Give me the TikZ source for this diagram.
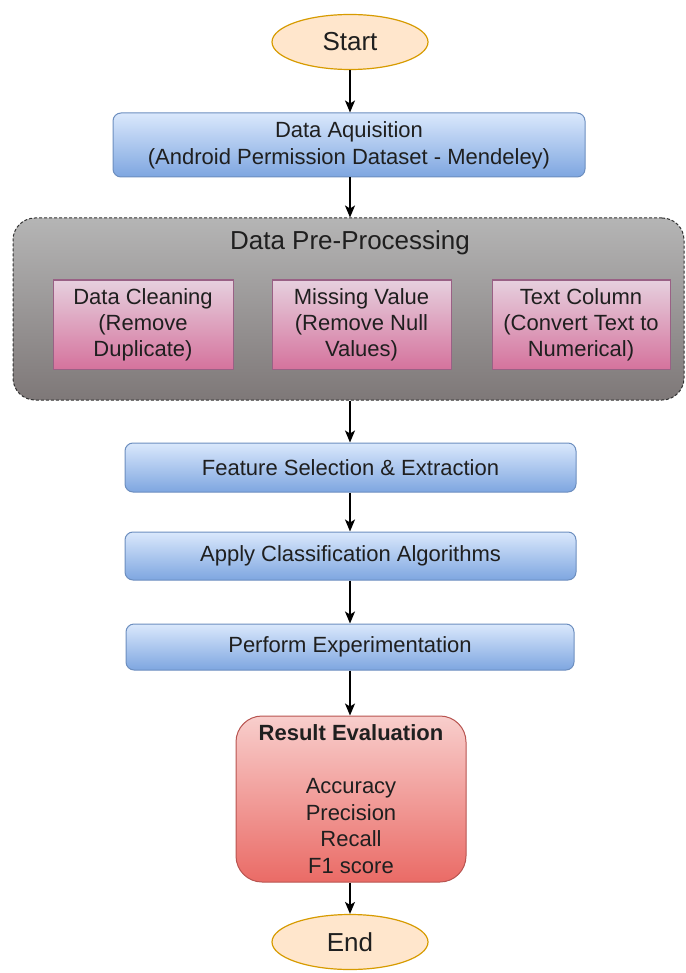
\documentclass[tikz,border=0pt]{standalone}
\usepackage{fontspec}
\setmainfont{Liberation Sans}
\usetikzlibrary{shapes.geometric,arrows.meta}

\definecolor{txt}{HTML}{1F1F1F}
\definecolor{termfill}{HTML}{FFE6CC}
\definecolor{termline}{HTML}{D79B00}
\definecolor{bluetop}{HTML}{DAE8FC}
\definecolor{bluebot}{HTML}{7EA6E0}
\definecolor{blueline}{HTML}{6C8EBF}
\definecolor{graytop}{HTML}{B5B5B5}
\definecolor{graybot}{HTML}{7E7878}
\definecolor{grayline}{HTML}{333333}
\definecolor{pinktop}{HTML}{E6D0DE}
\definecolor{pinkbot}{HTML}{D5739D}
\definecolor{pinkline}{HTML}{996185}
\definecolor{redtop}{HTML}{F8CECC}
\definecolor{redbot}{HTML}{EA6B66}
\definecolor{redline}{HTML}{B85450}

\tikzset{
  txtbase/.style={text=txt, align=center, inner sep=0pt},
  terminal/.style={txtbase, ellipse, draw=termline, fill=termfill, line width=1.2pt,
    minimum width=156pt, minimum height=55pt, font=\fontsize{26}{30}\selectfont},
  bluebox/.style={txtbase, rectangle, rounded corners=8pt, draw=blueline, line width=1pt,
    top color=bluetop, bottom color=bluebot, font=\fontsize{22}{27}\selectfont},
  prebox/.style={txtbase, rectangle, rounded corners=22pt, draw=grayline, line width=1pt,
    dash pattern=on 3pt off 2pt, top color=graytop, bottom color=graybot,
    minimum width=671pt, minimum height=182pt},
  pinkbox/.style={txtbase, rectangle, draw=pinkline, line width=1pt,
    top color=pinktop, bottom color=pinkbot,
    minimum height=89pt, font=\fontsize{22}{26}\selectfont},
  resultbox/.style={txtbase, rectangle, rounded corners=26pt, draw=redline, line width=1pt,
    top color=redtop, bottom color=redbot,
    minimum width=230pt, minimum height=166pt, font=\fontsize{22}{26.7}\selectfont},
  flow/.style={draw=black, line width=1.5pt, -{Stealth[length=12pt,width=10pt,inset=3pt]}}
}

\begin{document}
\begin{tikzpicture}[x=1pt,y=-1pt]
\useasboundingbox (0,0) rectangle (685,973);

% terminals and main steps
\node[terminal] (start) at (350,42) {Start};
\node[bluebox, minimum width=472pt, minimum height=64pt] (acq) at (349,145)
  {Data Aquisition\\(Android Permission Dataset - Mendeley)};

% pre-processing group
\node[prebox] (pre) at (348.5,309) {};
\node[txtbase, font=\fontsize{26}{30}\selectfont] (pretitle) at (350,243) {Data Pre-Processing};
\node[pinkbox, minimum width=180pt] (clean) at (143,324.5)
  {Data Cleaning\\(Remove\\Duplicate)};
\node[pinkbox, minimum width=179pt] (miss) at (361.5,324.5)
  {Missing Value\\(Remove Null\\Values)};
\node[pinkbox, minimum width=178pt] (textcol) at (581,324.5)
  {Text Column\\(Convert Text to\\Numerical)};

\node[bluebox, minimum width=451pt, minimum height=49pt] (feat) at (350.5,467.5)
  {Feature Selection \& Extraction};
\node[bluebox, minimum width=451pt, minimum height=48pt] (apply) at (350.5,556)
  {Apply Classification Algorithms};
\node[bluebox, minimum width=448pt, minimum height=46pt] (perf) at (350,647)
  {Perform Experimentation};

\node[resultbox] (result) at (351,799)
  {\textbf{Result Evaluation}\\[26.7pt]Accuracy\\Precision\\Recall\\F1 score};
\node[terminal] (end) at (350,942) {End};

% connectors
\draw[flow] (start.south) -- (start.south |- acq.north);
\draw[flow] (acq.south -| start.south) -- (start.south |- pre.north);
\draw[flow] (start.south |- pre.south) -- (start.south |- feat.north);
\draw[flow] (start.south |- feat.south) -- (start.south |- apply.north);
\draw[flow] (start.south |- apply.south) -- (start.south |- perf.north);
\draw[flow] (start.south |- perf.south) -- (start.south |- result.north);
\draw[flow] (start.south |- result.south) -- (end.north);
\end{tikzpicture}
\end{document}
